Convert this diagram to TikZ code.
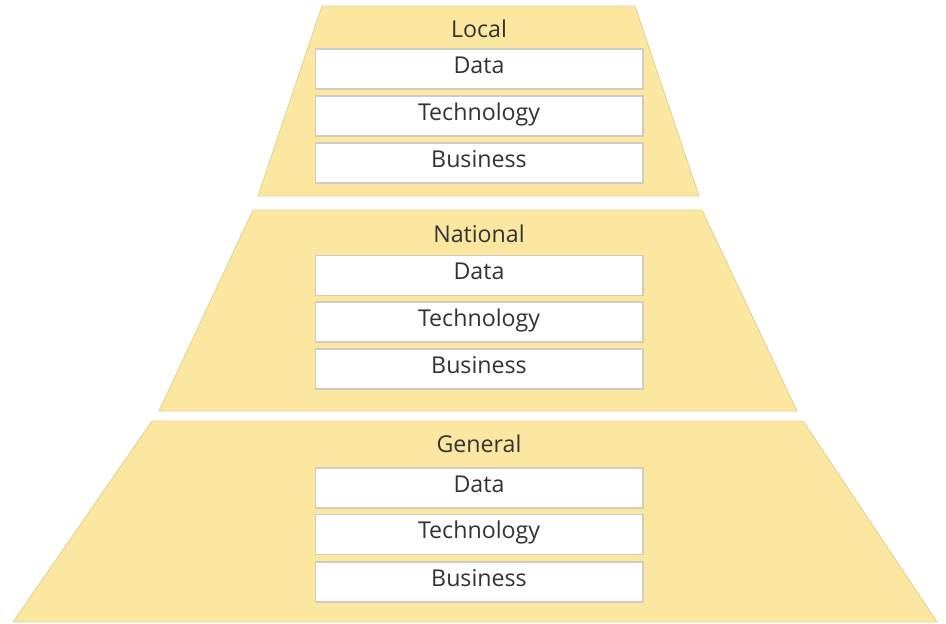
\documentclass[tikz,border=0pt]{standalone}
\usepackage{fontspec}
\setmainfont{Open Sans}
\definecolor{gelb}{HTML}{FCE7A1}
\definecolor{gelbrand}{HTML}{E3D29A}
\definecolor{grau}{HTML}{CFCCC4}
\definecolor{schrift}{HTML}{333333}
\begin{document}
\begin{tikzpicture}[x=0.02cm, y=-0.02cm]
		\tikzset{schicht/.style={fill=gelb, draw=gelbrand, line width=0.5pt},
		feld/.style={rectangle, fill=white, draw=grau, line width=0.6pt, minimum width=6.56cm, minimum height=0.8cm, inner sep=0, text=schrift, text height=9pt, text depth=4pt, font=\fontsize{13.2}{15}\selectfont},
		titel/.style={text=schrift, text height=9pt, text depth=4pt, font=\fontsize{13.2}{15}\selectfont, inner sep=0}}
		\useasboundingbox (0, 0) rectangle (946, 623);

		% Layers
		\filldraw[schicht] (322, 6) -- (635, 6) -- (699, 196) -- (258, 196) -- cycle;
		\filldraw[schicht] (253, 210) -- (702, 210) -- (797, 411) -- (159, 411) -- cycle;
		\filldraw[schicht] (152, 421) -- (803, 421) -- (937, 622) -- (13, 622) -- cycle;

        \node[titel] at (479, 33.5) (l1) {Local};
        \node[feld] at (479, 69) (d1) {Data};
        \node[feld] at (479, 116) (t1) {Technology};
        \node[feld] at (479, 163) (b1) {Business};

        \node[titel] at (479, 238.5) (l2) {National};
        \node[feld] at (479, 275.5) (d2) {Data};
        \node[feld] at (479, 322) (t2) {Technology};
        \node[feld] at (479, 369) (b2) {Business};

        \node[titel] at (479, 448.5) (l3) {General};
        \node[feld] at (479, 488) (d3) {Data};
        \node[feld] at (479, 534.5) (t3) {Technology};
        \node[feld] at (479, 582) (b3) {Business};
\end{tikzpicture}
\end{document}
